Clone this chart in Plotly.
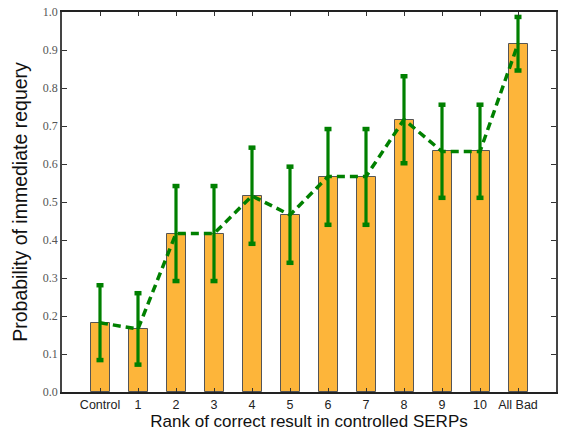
import plotly.graph_objects as go

categories = ["Control", "1", "2", "3", "4", "5", "6", "7", "8", "9", "10", "All Bad"]
means = [0.182, 0.166, 0.417, 0.417, 0.516, 0.466, 0.567, 0.567, 0.717, 0.633, 0.633, 0.916]
err_upper = [0.281, 0.260, 0.542, 0.542, 0.643, 0.593, 0.692, 0.692, 0.831, 0.756, 0.756, 0.987]
err_lower = [0.084, 0.072, 0.292, 0.292, 0.390, 0.340, 0.440, 0.440, 0.602, 0.511, 0.511, 0.846]
y_ticks = [0.0, 0.1, 0.2, 0.3, 0.4, 0.5, 0.6, 0.7, 0.8, 0.9, 1.0]

xs = list(range(len(categories)))
plus = [u - m for u, m in zip(err_upper, means)]
minus = [m - l for m, l in zip(means, err_lower)]
GREEN = "#008000"

fig = go.Figure()
fig.add_trace(go.Bar(
    x=xs, y=means, width=0.5,
    marker=dict(color="#FDB53A", line=dict(color="#555555", width=1)),
    showlegend=False,
))
fig.add_trace(go.Scatter(
    x=xs, y=means, mode="lines",
    line=dict(color=GREEN, width=3.5, dash="8px,5px"),
    error_y=dict(type="data", symmetric=False, array=plus, arrayminus=minus,
                 color=GREEN, thickness=3.2, width=0),
    showlegend=False,
))
# error bar caps
fig.add_trace(go.Scatter(
    x=xs + xs, y=err_upper + err_lower, mode="markers",
    marker=dict(symbol="line-ew", size=5, line=dict(color=GREEN, width=4.5)),
    showlegend=False, hoverinfo="skip",
))

fig.update_layout(
    width=563, height=433,
    margin=dict(l=62, r=5, t=10, b=39),
    plot_bgcolor="white", paper_bgcolor="white",
    xaxis=dict(
        range=[-1, 12], tickmode="array", tickvals=xs, ticktext=categories,
        ticks="inside", ticklen=4, tickcolor="#333333", mirror="ticks",
        showline=True, linecolor="#222222", linewidth=1.5, showgrid=False, zeroline=False,
        tickfont=dict(family="Liberation Sans, Arial", size=12.5, color="#222222"),
        title=dict(text="Rank of correct result in controlled SERPs", standoff=4,
                   font=dict(family="Liberation Sans, Arial", size=17, color="#111111")),
    ),
    yaxis=dict(
        range=[0, 1.0], tickmode="array", tickvals=y_ticks,
        ticktext=[f"{v:.1f}" for v in y_ticks],
        ticks="inside", ticklen=5, tickcolor="#333333", mirror="ticks",
        showline=True, linecolor="#444444", linewidth=1.5, showgrid=False, zeroline=False,
        tickfont=dict(family="Liberation Serif, DejaVu Serif", size=12, color="#555555"),
        title=dict(text="Probability of immediate requery", standoff=10,
                   font=dict(family="Liberation Sans, Arial", size=19.5, color="#111111")),
    ),
    bargap=0,
)

fig.write_html("out.html")
